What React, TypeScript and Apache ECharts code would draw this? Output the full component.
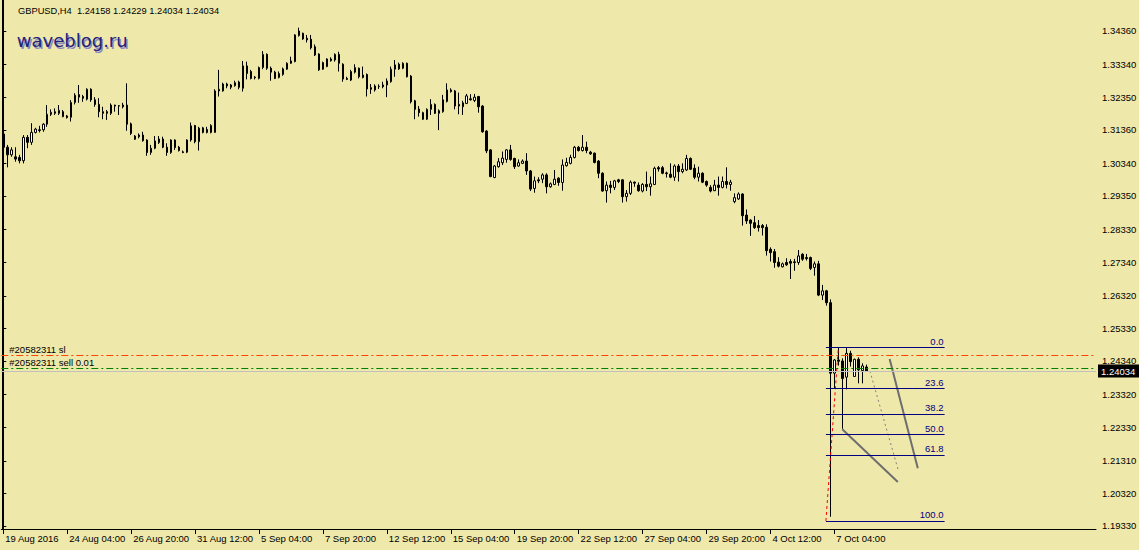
import React, { useEffect, useRef } from "react";
import * as echarts from "echarts";

// ---- H4 GBPUSD candles (19 Aug 2016 12:00 ... 10 Oct 2016 12:00) ----
const opens = [
  1.3123, 1.3083, 1.306, 1.3054, 1.3052, 1.3042, 1.3113, 1.3098, 1.3128, 1.3136,
  1.3136, 1.3153, 1.3183, 1.3186, 1.3186, 1.3191, 1.3178, 1.3174, 1.3219, 1.3235,
  1.3237, 1.3229, 1.3259, 1.3227, 1.3213, 1.3191, 1.3191, 1.3186, 1.3211, 1.3209,
  1.3211, 1.3211, 1.3154, 1.3107, 1.312, 1.312, 1.3105, 1.3067, 1.308, 1.3097,
  1.3108, 1.3083, 1.3067, 1.3105, 1.3083, 1.3069, 1.3068, 1.3105, 1.3149, 1.31,
  1.3128, 1.3137, 1.3128, 1.3128, 1.3254, 1.3254, 1.3275, 1.3265, 1.327, 1.3281,
  1.3262, 1.333, 1.3313, 1.3296, 1.3292, 1.3325, 1.3365, 1.3323, 1.3311, 1.3295,
  1.3304, 1.332, 1.3338, 1.3343, 1.3422, 1.3429, 1.3414, 1.3411, 1.3388, 1.3366,
  1.332, 1.3328, 1.3351, 1.3348, 1.3365, 1.3335, 1.3292, 1.3287, 1.3311, 1.3323,
  1.3302, 1.3304, 1.3264, 1.3257, 1.3267, 1.3272, 1.3272, 1.3282, 1.332, 1.3335,
  1.3323, 1.3338, 1.3299, 1.3224, 1.3199, 1.3188, 1.3168, 1.3198, 1.3213, 1.3186,
  1.3191, 1.3222, 1.3257, 1.3254, 1.3213, 1.3206, 1.3216, 1.323, 1.3225, 1.3237,
  1.3208, 1.3132, 1.3075, 1.2991, 1.3024, 1.3036, 1.3046, 1.3075, 1.3049, 1.3026,
  1.3034, 1.3041, 1.3011, 1.2958, 1.2984, 1.2986, 1.2999, 1.2963, 1.297, 1.2989,
  1.2976, 1.3027, 1.3034, 1.3052, 1.3083, 1.3073, 1.3083, 1.3068, 1.3065, 1.3041,
  1.3004, 1.2951, 1.2968, 1.2961, 1.2984, 1.2984, 1.2933, 1.2943, 1.2977, 1.2968,
  1.295, 1.297, 1.2963, 1.297, 1.3021, 1.3021, 1.3005, 1.3001, 1.2992, 1.3026,
  1.3009, 1.3014, 1.3049, 1.3019, 1.2992, 1.3004, 1.2979, 1.2961, 1.2951, 1.2968,
  1.2961, 1.2979, 1.297, 1.2918, 1.2926, 1.2941, 1.2877, 1.2862, 1.2854, 1.2845,
  1.2845, 1.284, 1.2773, 1.2766, 1.2734, 1.272, 1.2733, 1.2736, 1.2735, 1.2733,
  1.2758, 1.2748, 1.2748, 1.2718, 1.2729, 1.2634, 1.2647, 1.2611, 1.2397, 1.2437,
  1.2434, 1.2385, 1.2457, 1.2387, 1.2439, 1.2405, 1.24158,
];
const closes = [
  1.3083, 1.306, 1.3075, 1.3047, 1.3042, 1.3113, 1.3098, 1.3128, 1.3138, 1.3134,
  1.3153, 1.3183, 1.3189, 1.3191, 1.3195, 1.3176, 1.3173, 1.3219, 1.3241, 1.3243,
  1.3232, 1.3259, 1.3227, 1.3213, 1.3191, 1.3186, 1.3186, 1.3211, 1.3208, 1.3208,
  1.3206, 1.3153, 1.3125, 1.3117, 1.3115, 1.3103, 1.3067, 1.308, 1.3102, 1.3108,
  1.3083, 1.3067, 1.3105, 1.3082, 1.3073, 1.3067, 1.3105, 1.3148, 1.31, 1.3141,
  1.3142, 1.3128, 1.3149, 1.3254, 1.3259, 1.3275, 1.3269, 1.3272, 1.3279, 1.3265,
  1.333, 1.3307, 1.3292, 1.3294, 1.3325, 1.3365, 1.3323, 1.3311, 1.3292, 1.3307,
  1.3321, 1.3338, 1.3345, 1.3424, 1.3436, 1.3412, 1.3409, 1.3385, 1.3363, 1.3318,
  1.334, 1.3351, 1.3346, 1.3365, 1.3338, 1.329, 1.3289, 1.3313, 1.3325, 1.3297,
  1.3295, 1.326, 1.3259, 1.3269, 1.3268, 1.3267, 1.3284, 1.332, 1.3333, 1.3321,
  1.3338, 1.3297, 1.3221, 1.3198, 1.3188, 1.3168, 1.3198, 1.3213, 1.3186, 1.3194,
  1.3227, 1.3257, 1.3252, 1.3208, 1.3208, 1.3218, 1.3239, 1.3227, 1.3235, 1.3206,
  1.313, 1.3072, 1.2994, 1.3026, 1.3039, 1.305, 1.3075, 1.3046, 1.3024, 1.3036,
  1.3041, 1.3011, 1.2956, 1.2981, 1.2981, 1.2999, 1.2963, 1.2972, 1.2986, 1.2976,
  1.3029, 1.3037, 1.3052, 1.3083, 1.3073, 1.3083, 1.3073, 1.3063, 1.3037, 1.3004,
  1.295, 1.2968, 1.2961, 1.2981, 1.2979, 1.2933, 1.2943, 1.2977, 1.2974, 1.2951,
  1.297, 1.2963, 1.2972, 1.3019, 1.3017, 1.3004, 1.3003, 1.2992, 1.3026, 1.3009,
  1.3016, 1.3049, 1.3016, 1.2992, 1.3004, 1.2977, 1.2968, 1.295, 1.2968, 1.2961,
  1.2979, 1.297, 1.2977, 1.293, 1.2941, 1.2875, 1.2859, 1.2852, 1.2839, 1.2839,
  1.2839, 1.2769, 1.2763, 1.2733, 1.2722, 1.2729, 1.2726, 1.2731, 1.2733, 1.2753,
  1.2743, 1.2745, 1.2715, 1.2729, 1.2634, 1.2647, 1.2611, 1.2397, 1.2437, 1.2433,
  1.2381, 1.2457, 1.2432, 1.2439, 1.2407, 1.2419, 1.24034,
];
const lows = [
  1.3051, 1.3022, 1.3054, 1.3039, 1.3034, 1.3034, 1.308, 1.309, 1.3125, 1.3128,
  1.313, 1.3145, 1.3178, 1.3181, 1.3181, 1.3174, 1.317, 1.3161, 1.3213, 1.3218,
  1.3221, 1.3225, 1.3221, 1.3206, 1.3174, 1.3168, 1.3166, 1.3181, 1.3191, 1.3181,
  1.3201, 1.3133, 1.312, 1.3105, 1.311, 1.31, 1.3057, 1.306, 1.3077, 1.3093,
  1.308, 1.3057, 1.3063, 1.3075, 1.307, 1.3065, 1.3065, 1.31, 1.3095, 1.3073,
  1.3125, 1.3125, 1.3125, 1.3127, 1.3237, 1.3252, 1.3262, 1.3259, 1.3267, 1.3259,
  1.3252, 1.3289, 1.3289, 1.3289, 1.3289, 1.332, 1.3318, 1.3285, 1.329, 1.3292,
  1.33, 1.3318, 1.3336, 1.3341, 1.3419, 1.3409, 1.3401, 1.338, 1.336, 1.3315,
  1.3318, 1.3326, 1.3343, 1.3343, 1.3313, 1.3282, 1.3287, 1.3284, 1.3307, 1.3292,
  1.3292, 1.3237, 1.3245, 1.3252, 1.326, 1.3262, 1.3235, 1.3279, 1.3297, 1.3318,
  1.332, 1.3295, 1.3216, 1.3168, 1.3176, 1.3166, 1.3166, 1.3181, 1.3184, 1.3135,
  1.3188, 1.3219, 1.3249, 1.3198, 1.3183, 1.3181, 1.3214, 1.3225, 1.322, 1.3188,
  1.3127, 1.3065, 1.2992, 1.2989, 1.3021, 1.3029, 1.3036, 1.3042, 1.3017, 1.3024,
  1.3032, 1.2999, 1.295, 1.2945, 1.2974, 1.2974, 1.2943, 1.296, 1.2968, 1.2966,
  1.2951, 1.3024, 1.3031, 1.3049, 1.307, 1.307, 1.3065, 1.306, 1.3034, 1.2989,
  1.2948, 1.2915, 1.2943, 1.2953, 1.2974, 1.2915, 1.2918, 1.2938, 1.2963, 1.2948,
  1.2946, 1.295, 1.2936, 1.2968, 1.3009, 1.3001, 1.2991, 1.2989, 1.2981, 1.2979,
  1.3004, 1.3011, 1.3014, 1.2986, 1.2979, 1.2974, 1.2963, 1.2946, 1.295, 1.2936,
  1.2958, 1.2958, 1.2951, 1.2913, 1.2923, 1.2845, 1.285, 1.2814, 1.2835, 1.2827,
  1.2815, 1.2754, 1.2736, 1.2717, 1.2718, 1.2718, 1.2723, 1.2683, 1.2708, 1.2726,
  1.2738, 1.2739, 1.271, 1.2693, 1.2631, 1.2619, 1.2602, 1.1961, 1.235, 1.242,
  1.2228, 1.2348, 1.2417, 1.2386, 1.2366, 1.2366, 1.24034,
];
const highs = [
  1.3145, 1.309, 1.3083, 1.3083, 1.306, 1.312, 1.312, 1.3156, 1.3142, 1.3148,
  1.3156, 1.3211, 1.3198, 1.3201, 1.3211, 1.3196, 1.3181, 1.3226, 1.3247, 1.3272,
  1.3242, 1.3262, 1.3262, 1.3235, 1.3232, 1.3206, 1.3196, 1.3216, 1.3212, 1.3211,
  1.3218, 1.3277, 1.3158, 1.312, 1.3125, 1.313, 1.3107, 1.309, 1.3117, 1.3117,
  1.3115, 1.3095, 1.3107, 1.3107, 1.3087, 1.3073, 1.3107, 1.3158, 1.3151, 1.3145,
  1.3145, 1.3145, 1.3153, 1.3259, 1.3318, 1.3279, 1.3279, 1.3275, 1.3285, 1.3285,
  1.3345, 1.3343, 1.3318, 1.3299, 1.3328, 1.3375, 1.3368, 1.3328, 1.3315, 1.3313,
  1.3325, 1.3341, 1.3358, 1.3426, 1.3446, 1.3431, 1.3424, 1.3424, 1.3395, 1.3368,
  1.3343, 1.3353, 1.3356, 1.3368, 1.3373, 1.3338, 1.3297, 1.3318, 1.3335, 1.3325,
  1.3328, 1.3307, 1.3275, 1.3274, 1.3274, 1.3282, 1.3292, 1.3328, 1.3348, 1.334,
  1.3341, 1.334, 1.3302, 1.3227, 1.3208, 1.3191, 1.3201, 1.3229, 1.3216, 1.3198,
  1.3242, 1.3277, 1.3262, 1.3257, 1.3249, 1.3224, 1.3245, 1.3244, 1.3245, 1.3239,
  1.3211, 1.3135, 1.3077, 1.3029, 1.305, 1.307, 1.3077, 1.309, 1.3051, 1.3046,
  1.3046, 1.3065, 1.3014, 1.2994, 1.2992, 1.3004, 1.3004, 1.2976, 1.3014, 1.2992,
  1.3046, 1.3051, 1.306, 1.3087, 1.3087, 1.312, 1.31, 1.3072, 1.3067, 1.3044,
  1.3007, 1.2979, 1.2981, 1.2984, 1.2987, 1.2986, 1.2953, 1.2982, 1.2979, 1.2976,
  1.2974, 1.3009, 1.2994, 1.3024, 1.3026, 1.3026, 1.3009, 1.3034, 1.3031, 1.3032,
  1.3034, 1.306, 1.3052, 1.3031, 1.3024, 1.3007, 1.2982, 1.2968, 1.2984, 1.2994,
  1.2994, 1.3022, 1.2984, 1.2943, 1.2946, 1.2943, 1.2894, 1.2864, 1.2874, 1.2862,
  1.285, 1.2849, 1.2779, 1.2774, 1.2749, 1.2733, 1.2746, 1.2743, 1.2744, 1.2771,
  1.2761, 1.2759, 1.2751, 1.2736, 1.2738, 1.2665, 1.265, 1.2621, 1.244, 1.2474,
  1.2442, 1.2473, 1.2465, 1.2441, 1.2445, 1.2427, 1.24229,
];

// ---- axes ----
const SLOT_COUNT = 274; // bar slots visible across the window
const TICK_STEP = 16; // one time label every 16 H4 bars
const xTickLabels = [
  "19 Aug 2016", "24 Aug 04:00", "26 Aug 20:00", "31 Aug 12:00", "5 Sep 04:00",
  "7 Sep 20:00", "12 Sep 12:00", "15 Sep 04:00", "19 Sep 20:00", "22 Sep 12:00",
  "27 Sep 04:00", "29 Sep 20:00", "4 Oct 12:00", "7 Oct 04:00",
];
const yTickValues = [
  1.1933, 1.2032, 1.2131, 1.2233, 1.2332, 1.2434, 1.2533, 1.2632,
  1.2734, 1.2833, 1.2935, 1.3034, 1.3136, 1.3235, 1.3334, 1.3436,
];
const Y_MIN = 1.19238;
const Y_MAX = 1.35301;

// ---- header ----
const symbolTitle = "GBPUSD,H4";
const lastBar = ["1.24158", "1.24229", "1.24034", "1.24034"];

// ---- order lines ----
const bidPrice = 1.24034;
const slPrice = 1.24508;
const sellPrice = 1.24113;
const slLabel = "#20582311 sl";
const sellLabel = "#20582311 sell 0.01";

// ---- Fibonacci retracement ----
const fibLevels = ["0.0", "23.6", "38.2", "50.0", "61.8", "100.0"];
const fibPrices = [1.24744, 1.23502, 1.22734, 1.22113, 1.21492, 1.19482];
const fibStartBar = 205.9;
const fibEndBar = 235.6;
const fibBaseLine = [
  [205.9, 1.19482],
  [209.0, 1.24744],
];

// ---- hand-drawn wave lines ----
const waveLineA = [
  [210.0, 1.22266],
  [223.9, 1.20666],
];
const waveLineB = [
  [221.85, 1.24401],
  [228.9, 1.21081],
];
const waveDotted = [
  [216.9, 1.24036],
  [224.0, 1.2103],
];

const FONT = '"Liberation Sans", Arial, sans-serif';
const BG = "#EEE8AA";

export default function App() {
  const ref = useRef<HTMLDivElement>(null);

  useEffect(() => {
    if (!ref.current) return;
    const chart = echarts.init(ref.current, undefined, { renderer: "svg" });

    const slots = Array.from({ length: SLOT_COUNT }, (_, i) => String(i));
    const candleData = opens.map((o, i) => [o, closes[i], lows[i], highs[i]]);
    const showTick = (index: number) =>
      index % TICK_STEP === 0 && index / TICK_STEP < xTickLabels.length;
    const xStart = -0.5;
    const xEnd = SLOT_COUNT - 0.5;

    const waveSeries = (data: number[][], color: string, width: number, type: any) => ({
      type: "line",
      xAxisIndex: 1,
      yAxisIndex: 0,
      data,
      symbol: "none",
      silent: true,
      lineStyle: { color, width, type },
      z: 4,
    });

    const orderLine = (price: number, color: string, type: any, label: any, z: number) => ({
      type: "line",
      xAxisIndex: 1,
      yAxisIndex: 0,
      data: [
        [xStart, price],
        [xEnd, price],
      ],
      symbol: "none",
      silent: true,
      z,
      lineStyle: { width: 0, opacity: 0 },
      markLine: {
        symbol: ["none", "none"],
        silent: true,
        animation: false,
        lineStyle: { color, width: 1, type, opacity: 1 },
        label: { fontSize: 9.5, fontFamily: FONT, ...label },
        data: [[{ coord: [xStart, price] }, { coord: [xEnd, price] }]],
      },
    });

    const option: any = {
      animation: false,
      backgroundColor: BG,
      textStyle: { fontFamily: FONT },
      grid: {
        left: 1.3,
        top: 0,
        width: 1094.7,
        height: 529,
        containLabel: false,
        outerBoundsMode: "none",
      },
      xAxis: [
        {
          type: "category",
          data: slots,
          boundaryGap: true,
          axisLine: { show: true, lineStyle: { color: "#000", width: 1 } },
          axisTick: {
            show: true,
            alignWithLabel: true,
            interval: showTick,
            length: 5,
            lineStyle: { color: "#000", width: 1 },
          },
          axisLabel: {
            show: true,
            interval: showTick,
            formatter: (_v: string, index: number) => {
              const k = index / TICK_STEP;
              return Number.isInteger(k) && k < xTickLabels.length ? xTickLabels[k] : "";
            },
            align: "left",
            margin: 4,
            padding: [0, 0, 0, 2],
            color: "#000",
            fontSize: 9.5,
            fontFamily: FONT,
          },
          splitLine: { show: false },
        },
        {
          type: "value",
          min: xStart,
          max: xEnd,
          show: false,
          splitLine: { show: false },
        },
      ],
      yAxis: {
        type: "value",
        position: "right",
        min: Y_MIN,
        max: Y_MAX,
        axisLine: { show: true, lineStyle: { color: "#000", width: 1 } },
        axisTick: {
          show: true,
          customValues: yTickValues,
          length: 3,
          lineStyle: { color: "#000" },
        },
        axisLabel: {
          show: true,
          customValues: yTickValues,
          formatter: (v: number) => v.toFixed(5),
          margin: 6,
          color: "#000",
          fontSize: 9.5,
          fontFamily: FONT,
        },
        splitLine: { show: false },
      },
      series: [
        orderLine(bidPrice, "#c0c0c0", "solid", {
          show: true,
          position: "end",
          formatter: bidPrice.toFixed(5),
          color: "#fff",
          backgroundColor: "#000",
          padding: [2, 6, 1, 3],
          distance: 2,
        }, 1),
        orderLine(slPrice, "#ff4500", [7, 3, 2, 3], {
          show: true,
          position: "insideStartTop",
          formatter: slLabel,
          color: "#000",
          distance: [8, 1],
        }, 2),
        orderLine(sellPrice, "#008000", [7, 3, 2, 3], {
          show: true,
          position: "insideStartTop",
          formatter: sellLabel,
          color: "#000",
          distance: [8, 1],
        }, 2),
        {
          type: "candlestick",
          xAxisIndex: 0,
          yAxisIndex: 0,
          data: candleData,
          barWidth: 2,
          silent: true,
          z: 3,
          itemStyle: {
            color: "#ffffff",
            color0: "#000000",
            borderColor: "#000000",
            borderColor0: "#000000",
            borderWidth: 1,
          },
        },
        {
          type: "line",
          xAxisIndex: 1,
          yAxisIndex: 0,
          data: fibBaseLine,
          symbol: "none",
          silent: true,
          z: 4,
          lineStyle: { color: "#ff0000", width: 1, type: [3, 3] },
          markLine: {
            symbol: ["none", "none"],
            silent: true,
            animation: false,
            lineStyle: { color: "#000080", width: 1, type: "solid" },
            label: {
              show: true,
              position: "insideEndTop",
              formatter: (p: any) => fibLevels[p.dataIndex],
              color: "#000080",
              fontSize: 9.5,
              fontFamily: FONT,
              distance: [1, 1],
            },
            data: fibPrices.map((price) => [
              { coord: [fibStartBar, price] },
              { coord: [fibEndBar, price] },
            ]),
          },
        },
        waveSeries(waveLineA, "#6e6e6e", 2, "solid"),
        waveSeries(waveLineB, "#6e6e6e", 2, "solid"),
        waveSeries(waveDotted, "#808080", 1, [2, 3]),
      ],
      graphic: [
        {
          type: "line",
          silent: true,
          shape: { x1: 2.5, y1: 0, x2: 2.5, y2: 529 },
          style: { stroke: "#000", lineWidth: 1 },
        },
        {
          type: "text",
          silent: true,
          style: {
            x: 18,
            y: 10.5,
            text: symbolTitle + "  " + lastBar.join(" "),
            fill: "#000",
            font: '9.3px "Liberation Sans", Arial, sans-serif',
            verticalAlign: "middle",
          },
        },
        {
          type: "text",
          silent: true,
          style: {
            x: 18.2,
            y: 42,
            text: "waveblog.ru",
            fill: "#8a8ac0",
            font: '18px "DejaVu Sans", sans-serif',
            verticalAlign: "middle",
          },
        },
        {
          type: "text",
          silent: true,
          style: {
            x: 16.8,
            y: 40.6,
            text: "waveblog.ru",
            fill: "#22227a",
            font: '18px "DejaVu Sans", sans-serif',
            verticalAlign: "middle",
          },
        },
      ],
    };

    chart.setOption(option);
    return () => chart.dispose();
  }, []);

  return (
    <div
      ref={ref}
      style={{ position: "absolute", left: 0, top: 0, width: 1139, height: 550 }}
    />
  );
}
